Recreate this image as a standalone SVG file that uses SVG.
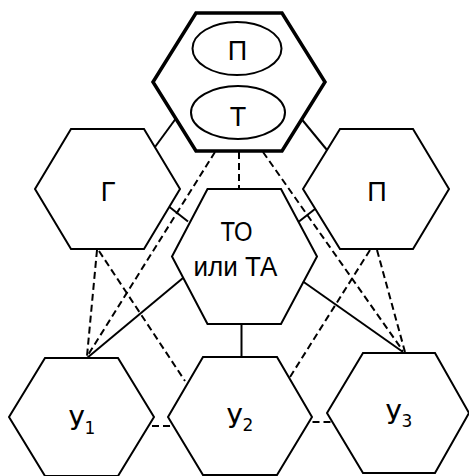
<svg xmlns="http://www.w3.org/2000/svg" width="469" height="476" viewBox="0 0 469 476">
<style>
.hex{fill:#fff;stroke:#000;stroke-width:2;stroke-linejoin:miter}
.thick{fill:#fff;stroke:#000;stroke-width:3.5}
.ell{fill:#fff;stroke:#000;stroke-width:2}
.solid{stroke:#000;stroke-width:2;fill:none}
.dash{stroke:#000;stroke-width:2;fill:none;stroke-dasharray:7 4}
.lbl{font-family:"Liberation Sans",Arial,sans-serif;font-size:27px;fill:#000;text-anchor:middle}
.ul{font-family:"DejaVu Sans",Verdana,sans-serif;font-size:26px;fill:#000;text-anchor:middle}
.sub{font-size:17px}
</style>
<rect width="469" height="476" fill="#fff"/>
<g id="node-top">
<polygon class="thick" points="153,82 196,13 282,13 325,82 282,151 196,151"/>
<ellipse class="ell" cx="237" cy="48.5" rx="44.5" ry="26.5"/>
<ellipse class="ell" cx="238" cy="112.5" rx="47" ry="26.5"/>
<text class="lbl" x="237.5" y="60">П</text>
<text class="lbl" x="238" y="125.5">Т</text>
</g>
<g id="node-G">
<polygon class="hex" points="35,189 71,129 144,129 180,189 144,249 71,249"/>
<text class="lbl" x="108" y="201">Г</text>
</g>
<g id="node-P">
<polygon class="hex" points="303,189 340,129 413,129 449,189 413,249 340,249"/>
<text class="lbl" x="377" y="201">П</text>
</g>
<g id="node-TO">
<polygon class="hex" points="172,256.5 207.5,189 281,189 317,256.5 281,324 207.5,324"/>
<text class="lbl" x="236.5" y="241" textLength="32" lengthAdjust="spacingAndGlyphs">ТО</text>
<text class="lbl" x="235.5" y="276" textLength="84" lengthAdjust="spacingAndGlyphs">или ТА</text>
</g>
<g id="node-U1">
<polygon class="hex" points="9,417 45,358 118,358 154,417 118,476 45,476"/>
<text class="ul" x="82" y="430">У<tspan class="sub" dy="4">1</tspan></text>
</g>
<g id="node-U2">
<polygon class="hex" points="168,417 203,357 277,357 312,417 277,475 203,475"/>
<text class="ul" x="240" y="428">У<tspan class="sub" dy="3">2</tspan></text>
</g>
<g id="node-U3">
<polygon class="hex" points="327,413 363,353 435,353 469,413 435,473 363,473"/>
<text class="ul" x="399" y="424">У<tspan class="sub" dy="3">3</tspan></text>
</g>
<g id="connectors">
<line class="solid" x1="175.5" y1="119" x2="155" y2="147"/>
<line class="solid" x1="301.5" y1="119" x2="327" y2="150"/>
<line class="solid" x1="169.5" y1="207" x2="188" y2="221.5"/>
<line class="solid" x1="299" y1="221.5" x2="315" y2="209"/>
<line class="solid" x1="183" y1="278" x2="87" y2="358"/>
<line class="solid" x1="303" y1="281.5" x2="403" y2="352"/>
<line class="solid" x1="241.5" y1="324" x2="241.5" y2="357"/>
<line class="dash" x1="239" y1="152" x2="239" y2="189"/>
<line class="dash" x1="215" y1="152" x2="88" y2="355"/>
<line class="dash" x1="263" y1="152" x2="403" y2="351"/>
<line class="dash" x1="97" y1="250" x2="87" y2="356"/>
<line class="dash" x1="99" y1="251" x2="185" y2="381"/>
<line class="dash" x1="370" y1="250" x2="290" y2="377"/>
<line class="dash" x1="377" y1="250" x2="405" y2="352"/>
<line class="dash" x1="152" y1="426" x2="173" y2="426"/>
<line class="dash" x1="312.5" y1="422" x2="334" y2="422"/>
</g>
</svg>
